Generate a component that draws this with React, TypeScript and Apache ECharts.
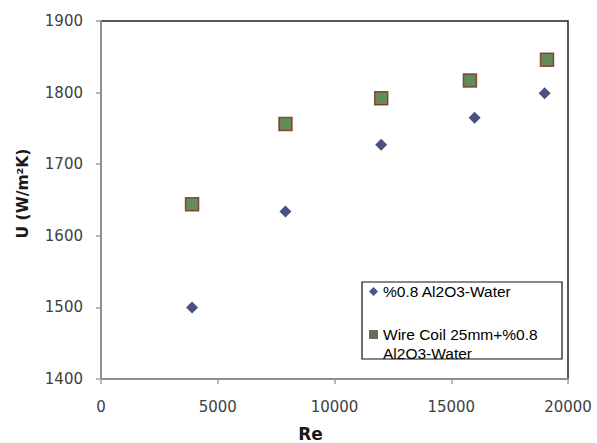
import React, { useEffect, useRef } from "react";
import * as echarts from "echarts";

const seriesNames = ["%0.8 Al2O3-Water", "Wire Coil 25mm+%0.8 Al2O3-Water"];
const legendLine1 = "Wire Coil 25mm+%0.8";
const legendLine2 = "Al2O3-Water";
const reAl2O3 = [3900, 7900, 12000, 16000, 19000];
const uAl2O3 = [1500, 1634, 1727, 1765, 1799];
const reCoil = [3900, 7900, 12000, 15800, 19100];
const uCoil = [1644, 1756, 1792, 1817, 1846];
const xTicks = { min: 0, max: 20000, interval: 5000 };
const yTicks = { min: 1400, max: 1900, interval: 100 };

const labelFont = "DejaVu Sans";
const legendFont = "Liberation Sans";

export default function App() {
  const ref = useRef<HTMLDivElement>(null);
  useEffect(() => {
    if (!ref.current) return;
    const chart = echarts.init(ref.current, null, { renderer: "svg" });
    const axisLineStyle = { color: "#a0a0a0", width: 1.5 };
    chart.setOption({
      animation: false,
      backgroundColor: "#ffffff",
      grid: {
        left: 101,
        top: 21,
        right: 29,
        bottom: 64,
        containLabel: false,
        outerBoundsMode: "none",
        show: true,
        borderColor: "#222222",
        borderWidth: 1.5,
        backgroundColor: "transparent",
      },
      xAxis: {
        type: "value",
        min: xTicks.min,
        max: xTicks.max,
        interval: xTicks.interval,
        name: "Re",
        nameLocation: "middle",
        nameGap: 46,
        nameTextStyle: {
          fontFamily: labelFont,
          fontWeight: "bold",
          fontSize: 17,
          color: "#1a1a1a",
          padding: [0, 48, 0, 0],
        },
        axisLine: { show: true, lineStyle: axisLineStyle },
        axisTick: { show: true, length: 5, lineStyle: axisLineStyle },
        axisLabel: {
          margin: 20,
          fontFamily: labelFont,
          fontSize: 15,
          color: "#404040",
          formatter: (v: number) => String(v),
        },
        splitLine: { show: false },
      },
      yAxis: {
        type: "value",
        min: yTicks.min,
        max: yTicks.max,
        interval: yTicks.interval,
        name: "U (W/m²K)",
        nameLocation: "middle",
        nameRotate: 90,
        nameGap: 70,
        nameTextStyle: {
          fontFamily: labelFont,
          fontWeight: "bold",
          fontSize: 15.5,
          color: "#1a1a1a",
          padding: [0, 0, 0, 13],
        },
        axisLine: { show: true, lineStyle: axisLineStyle },
        axisTick: { show: true, length: 5, lineStyle: axisLineStyle },
        axisLabel: {
          margin: 18,
          fontFamily: labelFont,
          fontSize: 15,
          color: "#404040",
          formatter: (v: number) => String(v),
        },
        splitLine: { show: false },
      },
      legend: {
        orient: "vertical",
        left: 369,
        top: 282,
        itemWidth: 9,
        itemHeight: 9,
        itemGap: 24,
        padding: 0,
        textStyle: { fontFamily: legendFont, fontSize: 15.5, color: "#000", lineHeight: 19 },
        data: [
          { name: seriesNames[0], icon: "diamond", itemStyle: { color: "#1c2a66" } },
          { name: seriesNames[1], icon: "rect", itemStyle: { color: "#4a4530", borderWidth: 0 } },
        ],
        formatter: (n: string) => (n === seriesNames[1] ? legendLine1 : n),
      },
      graphic: [
        {
          type: "rect",
          shape: { x: 362, y: 282, width: 200, height: 77 },
          style: { fill: "none", stroke: "#111", lineWidth: 1.2 },
          z: 1,
        },
        {
          type: "text",
          x: 383,
          y: 353,
          style: {
            text: legendLine2,
            fontFamily: legendFont,
            fontSize: 15.5,
            fill: "#000",
            verticalAlign: "middle",
            align: "left",
          },
          z: 5,
        },
      ],
      series: [
        {
          name: seriesNames[0],
          type: "scatter",
          symbol: "diamond",
          symbolSize: [12, 12],
          itemStyle: { color: "#1a2560" },
          data: reAl2O3.map((x, i) => [x, uAl2O3[i]]),
        },
        {
          name: seriesNames[1],
          type: "scatter",
          symbol: "rect",
          symbolSize: [13, 13],
          itemStyle: { color: "#3a7035", borderColor: "#842618", borderWidth: 1.5 },
          data: reCoil.map((x, i) => [x, uCoil[i]]),
        },
      ],
    });
    return () => chart.dispose();
  }, []);
  return (
    <div
      ref={ref}
      style={{ width: 597, height: 443, position: "absolute", left: 0, top: 0 }}
    />
  );
}
